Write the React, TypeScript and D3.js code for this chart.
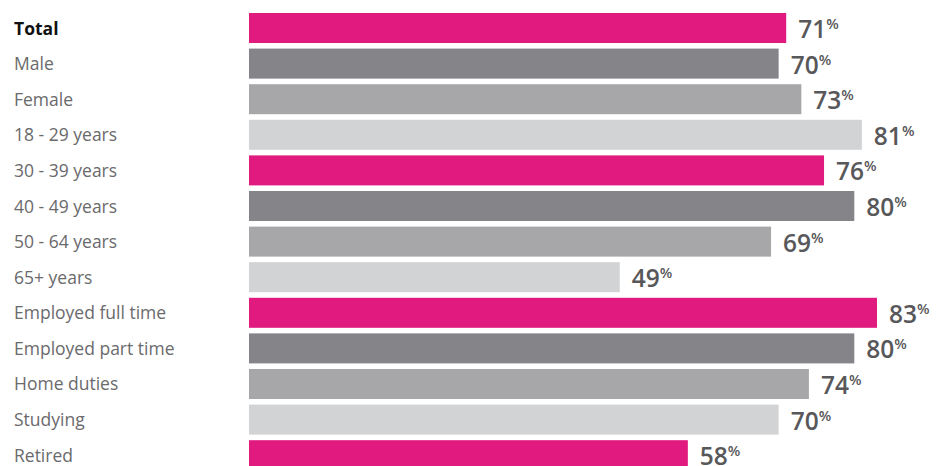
import React from "react";
import * as d3 from "d3";

const categories = [
  "Total",
  "Male",
  "Female",
  "18 - 29 years",
  "30 - 39 years",
  "40 - 49 years",
  "50 - 64 years",
  "65+ years",
  "Employed full time",
  "Employed part time",
  "Home duties",
  "Studying",
  "Retired",
];
const values = [71, 70, 73, 81, 76, 80, 69, 49, 83, 80, 74, 70, 58];
const palette = ["#E01A7F", "#848489", "#A7A7AA", "#D2D3D5"];
const barColorIndex = [0, 1, 2, 3, 0, 1, 2, 3, 0, 1, 2, 3, 0];

const W = 936;
const H = 466;
const FONT = "'Open Sans', 'DejaVu Sans', sans-serif";

export default function App() {
  const x = d3.scaleLinear().domain([0, 83]).range([249, 877]);
  const y = d3
    .scaleBand<string>()
    .domain(categories)
    .range([13, 470.2])
    .paddingInner(0.157)
    .paddingOuter(0);
  const bw = y.bandwidth();

  return (
    <svg
      width={W}
      height={H}
      style={{ position: "fixed", left: 0, top: 0, background: "#fff" }}
      fontFamily={FONT}
    >
      {categories.map((c, i) => {
        const yt = y(c) as number;
        const cy = yt + bw / 2;
        const xe = x(values[i]);
        return (
          <g key={c}>
            <text
              x={14}
              y={cy + 6.5}
              fontSize={17.5}
              fill={i === 0 ? "#111" : "#6a6a6c"}
              fontWeight={i === 0 ? 700 : 400}
            >
              {c}
            </text>
            <rect
              x={x(0)}
              y={yt}
              width={xe - x(0)}
              height={bw}
              fill={palette[barColorIndex[i]]}
            />
            <text x={xe + 12} y={yt + bw - 5} fill="#58585A" fontWeight={600}>
              <tspan fontSize={24.5}>{values[i]}</tspan>
              <tspan fontSize={14.5} dy={-9}>
                %
              </tspan>
            </text>
          </g>
        );
      })}
    </svg>
  );
}
